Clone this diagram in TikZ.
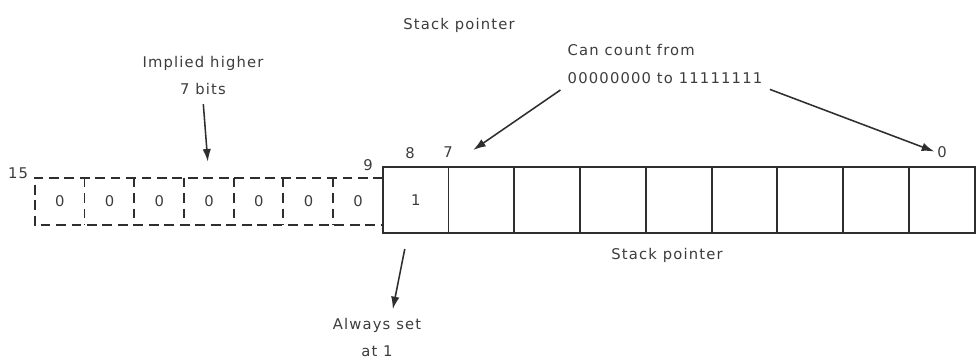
\documentclass[tikz,border=0pt]{standalone}
\usepackage{fontspec}
\setsansfont{DejaVu Sans}[LetterSpace=8]
\usetikzlibrary{arrows.meta, positioning, calc}
\definecolor{ink}{HTML}{2E2E2E}
\definecolor{txt}{HTML}{3C3C3C}

\begin{document}
\begin{tikzpicture}[
    every node/.style={font=\sffamily\fontsize{10.5}{19.5}\selectfont, text=txt},
    hicell/.style={minimum width=1.243cm, minimum height=1.175cm, inner sep=0pt},
    spcell/.style={minimum width=1.644cm, minimum height=1.65cm, inner sep=0pt},
    hiline/.style={ink, dash pattern=on 7pt off 4pt, line width=1.3pt},
    spline/.style={ink, line width=1.4pt},
    bitno/.style={inner sep=1pt},
    pil/.style={ink, line width=1.1pt, -{Latex[length=9pt, width=6pt]}},
]
\useasboundingbox (0,0) rectangle (24.4,9.05);

% ---------------------------------------------------------------- implied bits 15..9
\foreach \b [count=\i from 0] in {15,14,...,9}{
    \node[hicell] (h\b) at ({0.875 + (\i+0.5)*1.243}, 4.015) {0};
}
\draw[hiline] (h9.north east) -- (h15.north west) -- (h15.south west) -- (h9.south east);
\foreach \b in {14,13,...,9}{
    \draw[hiline] (h\b.north west) -- (h\b.south west);
}

% ---------------------------------------------------------------- stack pointer 8..0
\foreach \b [count=\i from 0] in {8,7,...,0}{
    \node[spcell] (s\b) at ({9.575 + (\i+0.5)*1.644}, 4.05) {};
}
\node at (s8) {1};
\draw[spline] (s8.north west) rectangle (s0.south east);
\foreach \b in {7,6,...,0}{
    \draw[spline] (s\b.north west) -- (s\b.south west);
}

% bit numbers
\node[bitno] (n15) at (0.45, 4.725) {15};
\node[bitno] (n9) at (9.2, 4.925) {9};
\node[bitno] (n8) at (10.25, 5.225) {8};
\node[bitno] (n7) at (11.2, 5.25) {7};
\node[bitno] (n0) at (23.55, 5.25) {0};

% ---------------------------------------------------------------- labels
\node (sptop) at (11.475, 8.425) {Stack pointer};
\node (spbot) at (16.675, 2.675) {Stack pointer};
\node[align=left] (cnt) at (16.625, 7.45) {Can count from\\00000000 to 11111111};
\node[align=center] (impl) at (5.075, 7.16) {Implied higher\\7 bits};
\node[align=center] (set) at (9.425, 0.61) {Always set\\at 1};

% ---------------------------------------------------------------- arrows
\coordinate (t7) at (11.83, 5.3);
\draw[pil, shorten <=2pt] (cnt.south west) -- (t7);
\draw[pil, shorten <=2pt, shorten >=1pt] (cnt.south east) -- (n0.west);
\draw[pil, shorten <=3pt, shorten >=0.4cm] (impl.south) -- (h12.north);
\draw[pil, shorten <=0.4cm, shorten >=0.1cm]
    ([xshift=-0.2cm]s8.south) -- ([xshift=0.375cm]set.north);

\end{tikzpicture}
\end{document}
